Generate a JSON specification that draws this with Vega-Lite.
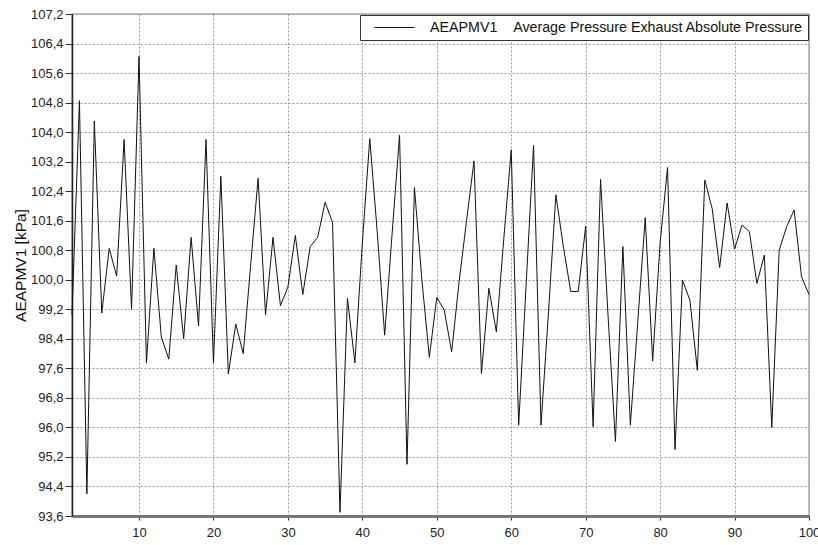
{
  "$schema": "https://vega.github.io/schema/vega-lite/v6.json",
  "width": 737,
  "height": 502,
  "autosize": "none",
  "padding": {"left": 72, "top": 14, "right": 9, "bottom": 29},
  "background": "white",
  "config": {
    "font": "Liberation Sans",
    "view": {"stroke": "#aaa", "strokeWidth": 1.5},
    "axis": {
      "gridColor": "#9a9a9a",
      "gridDash": [2, 2],
      "gridWidth": 1,
      "labelColor": "#222",
      "labelFont": "Liberation Sans",
      "labelFontSize": 13,
      "tickColor": "#333",
      "titleFont": "Liberation Sans",
      "titleFontWeight": "normal",
      "titleColor": "#111"
    },
    "legend": {
      "orient": "top-right",
      "offset": 1,
      "padding": 5,
      "strokeColor": "#333",
      "fillColor": "white",
      "symbolType": "M-2.857,0H2.857",
      "symbolSize": 196,
      "symbolStrokeWidth": 1,
      "symbolOffset": 22,
      "labelOffset": 28,
      "labelFont": "Liberation Sans",
      "labelFontSize": 14.25,
      "labelColor": "#111",
      "labelLimit": 0
    }
  },
  "data": {
    "values": [
      {"x": 1, "y": 99.05}, {"x": 2, "y": 104.85}, {"x": 3, "y": 94.2}, {"x": 4, "y": 104.3}, {"x": 5, "y": 99.1},
      {"x": 6, "y": 100.85}, {"x": 7, "y": 100.1}, {"x": 8, "y": 103.8}, {"x": 9, "y": 99.2}, {"x": 10, "y": 106.05},
      {"x": 11, "y": 97.75}, {"x": 12, "y": 100.85}, {"x": 13, "y": 98.45}, {"x": 14, "y": 97.85}, {"x": 15, "y": 100.4},
      {"x": 16, "y": 98.4}, {"x": 17, "y": 101.15}, {"x": 18, "y": 98.75}, {"x": 19, "y": 103.8}, {"x": 20, "y": 97.75},
      {"x": 21, "y": 102.8}, {"x": 22, "y": 97.45}, {"x": 23, "y": 98.8}, {"x": 24, "y": 98.0}, {"x": 25, "y": 100.4},
      {"x": 26, "y": 102.75}, {"x": 27, "y": 99.05}, {"x": 28, "y": 101.15}, {"x": 29, "y": 99.3}, {"x": 30, "y": 99.8},
      {"x": 31, "y": 101.2}, {"x": 32, "y": 99.6}, {"x": 33, "y": 100.9}, {"x": 34, "y": 101.15}, {"x": 35, "y": 102.1},
      {"x": 36, "y": 101.55}, {"x": 37, "y": 93.7}, {"x": 38, "y": 99.5}, {"x": 39, "y": 97.75}, {"x": 40, "y": 101.0},
      {"x": 41, "y": 103.82}, {"x": 42, "y": 101.3}, {"x": 43, "y": 98.5}, {"x": 44, "y": 101.25}, {"x": 45, "y": 103.92},
      {"x": 46, "y": 95.0}, {"x": 47, "y": 102.5}, {"x": 48, "y": 100.0}, {"x": 49, "y": 97.9}, {"x": 50, "y": 99.52},
      {"x": 51, "y": 99.18}, {"x": 52, "y": 98.05}, {"x": 53, "y": 99.95}, {"x": 54, "y": 101.6}, {"x": 55, "y": 103.22},
      {"x": 56, "y": 97.46}, {"x": 57, "y": 99.77}, {"x": 58, "y": 98.59}, {"x": 59, "y": 101.1}, {"x": 60, "y": 103.52},
      {"x": 61, "y": 96.06}, {"x": 62, "y": 99.86}, {"x": 63, "y": 103.64}, {"x": 64, "y": 96.06}, {"x": 65, "y": 99.1},
      {"x": 66, "y": 102.3}, {"x": 67, "y": 100.9}, {"x": 68, "y": 99.68}, {"x": 69, "y": 99.68}, {"x": 70, "y": 101.45},
      {"x": 71, "y": 96.02}, {"x": 72, "y": 102.72}, {"x": 73, "y": 99.05}, {"x": 74, "y": 95.62}, {"x": 75, "y": 100.9},
      {"x": 76, "y": 96.06}, {"x": 77, "y": 98.86}, {"x": 78, "y": 101.68}, {"x": 79, "y": 97.8}, {"x": 80, "y": 101.0},
      {"x": 81, "y": 103.04}, {"x": 82, "y": 95.4}, {"x": 83, "y": 99.99}, {"x": 84, "y": 99.45}, {"x": 85, "y": 97.55},
      {"x": 86, "y": 102.7}, {"x": 87, "y": 101.92}, {"x": 88, "y": 100.33}, {"x": 89, "y": 102.08}, {"x": 90, "y": 100.83},
      {"x": 91, "y": 101.48}, {"x": 92, "y": 101.3}, {"x": 93, "y": 99.9}, {"x": 94, "y": 100.67}, {"x": 95, "y": 96.0},
      {"x": 96, "y": 100.8}, {"x": 97, "y": 101.44}, {"x": 98, "y": 101.89}, {"x": 99, "y": 100.08}, {"x": 100, "y": 99.6}
    ]
  },
  "mark": {"type": "line", "strokeWidth": 1, "interpolate": "linear"},
  "encoding": {
    "x": {
      "field": "x",
      "type": "quantitative",
      "scale": {"domain": [1, 100], "nice": false, "zero": false},
      "axis": {
        "values": [10, 20, 30, 40, 50, 60, 70, 80, 90, 100],
        "title": null,
        "tickSize": 4,
        "labelPadding": 6,
        "domainColor": "#777",
        "domainWidth": 3,
        "labelFlush": false,
        "labelOverlap": false
      }
    },
    "y": {
      "field": "y",
      "type": "quantitative",
      "scale": {"domain": [93.6, 107.2], "nice": false, "zero": false},
      "axis": {
        "values": [93.6, 94.4, 95.2, 96.0, 96.8, 97.6, 98.4, 99.2, 100.0, 100.8, 101.6, 102.4, 103.2, 104.0, 104.8, 105.6, 106.4, 107.2],
        "labelExpr": "replace(format(datum.value, '.1f'), '.', ',')",
        "title": "AEAPMV1 [kPa]",
        "titleFontSize": 15.5,
        "titlePadding": 2,
        "tickSize": 7,
        "labelPadding": 2,
        "domainColor": "#222",
        "domainWidth": 1.5,
        "labelOverlap": false
      }
    },
    "color": {
      "datum": "AEAPMV1\u00a0\u00a0\u00a0\u00a0Average Pressure Exhaust Absolute Pressure",
      "type": "nominal",
      "scale": {"range": ["#111111"]},
      "legend": {"title": null}
    }
  }
}
